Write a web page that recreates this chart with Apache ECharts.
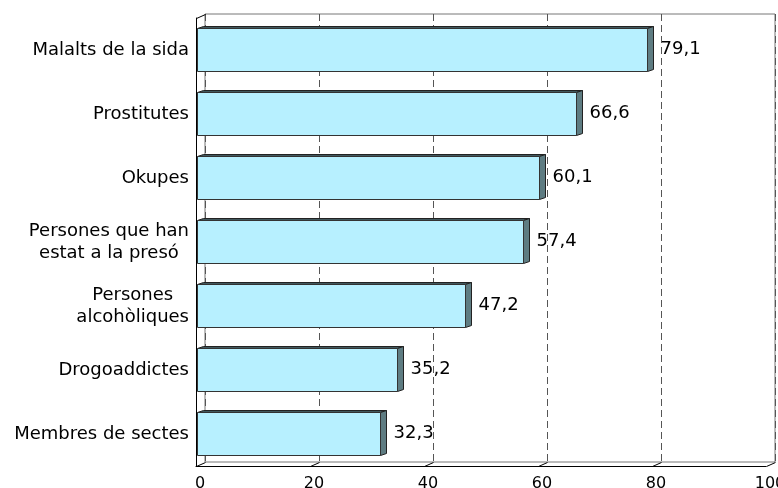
<!DOCTYPE html>
<html>
<head>
<meta charset="utf-8">
<script src="https://cdn.jsdelivr.net/npm/echarts/dist/echarts.min.js"></script>
<style>
html,body{margin:0;padding:0;background:#fff;}
#main{width:778px;height:488px;}
</style>
</head>
<body>
<div id="main"></div>
<script>
const categories = ['Malalts de la sida', 'Prostitutes', 'Okupes', 'Persones que han\nestat a la presó', 'Persones\nalcohòliques', 'Drogoaddictes', 'Membres de sectes'];
const values = [79.1, 66.6, 60.1, 57.4, 47.2, 35.2, 32.3];
const valueLabels = ['79,1', '66,6', '60,1', '57,4', '47,2', '35,2', '32,3'];
const xTicks = [0, 20, 40, 60, 80, 100];

const DX = 9, DY = 4;     // wall depth
const BDX = 6, BDY = 2;   // bar depth
const FONT = '"DejaVu Sans", Verdana, sans-serif';

const chart = echarts.init(document.getElementById('main'), null, {renderer: 'canvas'});

function renderBar(params, api) {
  const v = api.value(0), i = api.value(1);
  const p0 = api.coord([0, i]);
  const p1 = api.coord([v, i]);
  const band = api.size([0, 1])[1];
  const h = Math.round(band * 0.67);
  const yc = Math.round(p0[1]) - 0.5;
  const yT = Math.round(yc - h / 2) + 0.5, yB = yT + h;
  const x0 = Math.round(p0[0]) + 1.5, x1 = Math.round(p1[0]) + 0.5;
  return {
    type: 'group',
    children: [
      {type: 'polygon', shape: {points: [[x0, yT], [x0 + BDX, yT - BDY], [x1 + BDX, yT - BDY], [x1, yT]]},
        style: {fill: '#41585d', stroke: '#222', lineWidth: 1}},
      {type: 'polygon', shape: {points: [[x1, yT], [x1 + BDX, yT - BDY], [x1 + BDX, yB - BDY], [x1, yB]]},
        style: {fill: '#5e7c82', stroke: '#222', lineWidth: 1}},
      {type: 'rect', shape: {x: x0, y: yT, width: x1 - x0, height: yB - yT},
        style: {fill: '#b7f0ff', stroke: '#333', lineWidth: 1}},
      {type: 'text', style: {text: valueLabels[i], x: x1 + 13, y: yc, verticalAlign: 'middle', align: 'left',
        font: '18px ' + FONT, fill: '#000'}}
    ]
  };
}

function renderWall(params, api) {
  const v = api.value(0);
  const cs = params.coordSys;
  const x = Math.round(api.coord([v, 0])[0]) + 0.5;
  const bottom = Math.round(cs.y + cs.height) + 0.5;
  const top = Math.round(cs.y) + 0.5;
  const children = [
    {type: 'line', shape: {x1: x, y1: bottom, x2: x + DX, y2: bottom - DY}, style: {stroke: '#000', lineWidth: 1}}
  ];
  if (v === 0) {
    children.push({type: 'line', shape: {x1: x, y1: top, x2: x + DX, y2: top - DY}, style: {stroke: '#000', lineWidth: 1}});
  }
  return {type: 'group', children: children};
}

const option = {
  animation: false,
  backgroundColor: '#fff',
  grid: [
    {left: 196, top: 18, width: 570, height: 448, containLabel: false, outerBoundsMode: 'none'},
    {left: 205, top: 14, width: 570, height: 448, containLabel: false, outerBoundsMode: 'none',
      show: true, borderColor: '#777', borderWidth: 1, backgroundColor: 'transparent'}
  ],
  xAxis: [
    {gridIndex: 0, type: 'value', min: 0, max: 100, interval: 20,
      axisLine: {show: true, lineStyle: {color: '#000', width: 1}},
      axisTick: {show: false}, splitLine: {show: false},
      axisLabel: {fontFamily: FONT, fontSize: 16, color: '#000', margin: 10, padding: [0, 0, 0, 8]}},
    {gridIndex: 1, type: 'value', min: 0, max: 100, interval: 20,
      axisLine: {show: false}, axisTick: {show: false}, axisLabel: {show: false},
      splitLine: {show: true, lineStyle: {type: [7, 4], color: '#555', width: 1}}}
  ],
  yAxis: [
    {gridIndex: 0, type: 'category', data: categories, inverse: true,
      axisLine: {show: true, lineStyle: {color: '#000', width: 1}},
      axisTick: {show: false}, splitLine: {show: false},
      axisLabel: {margin: 7, color: '#000', fontFamily: FONT, fontSize: 18, lineHeight: 22,
        formatter: function (v) { return v.split('\n').map(function (s) { return '{c|' + s + '}'; }).join('\n'); },
        rich: {c: {align: 'center', fontFamily: FONT, fontSize: 18, lineHeight: 22, color: '#000'}}}},
    {gridIndex: 1, type: 'category', data: categories, inverse: true, show: false}
  ],
  series: [
    {type: 'custom', xAxisIndex: 0, yAxisIndex: 0, renderItem: renderWall, z: 3,
      data: xTicks.map(function (t) { return [t, 0]; })},
    {type: 'custom', xAxisIndex: 0, yAxisIndex: 0, renderItem: renderBar, z: 5,
      data: values.map(function (v, i) { return [v, i]; })}
  ]
};
chart.setOption(option);
</script>
</body>
</html>
